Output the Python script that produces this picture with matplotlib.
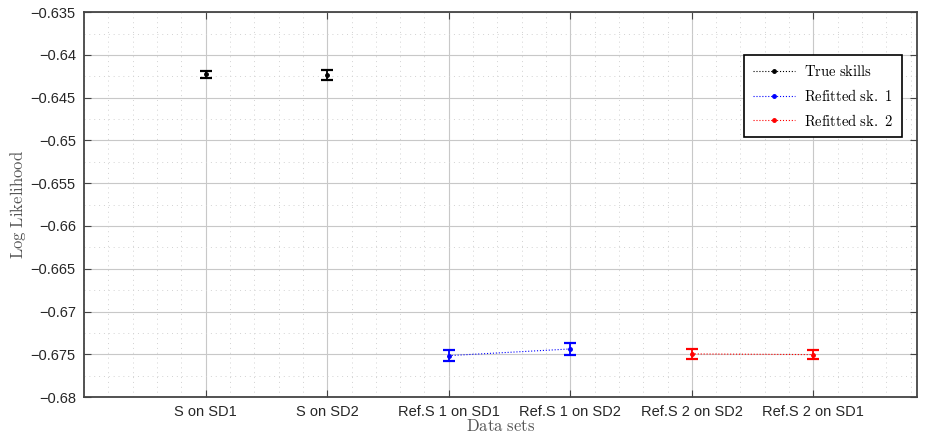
import matplotlib
matplotlib.use("Agg")
import matplotlib.pyplot as plt
from matplotlib.ticker import MultipleLocator
from matplotlib.lines import Line2D

plt.rcParams['mathtext.fontset'] = 'cm'

categories = ["S on SD1", "S on SD2", "Ref.S 1 on SD1", "Ref.S 1 on SD2",
              "Ref.S 2 on SD2", "Ref.S 2 on SD1"]

true_x = [1, 2]
true_mean = [-0.64227, -0.64235]
true_err = [0.00045, 0.00059]

ref1_x = [3, 4]
ref1_mean = [-0.67516, -0.67438]
ref1_err = [0.00062, 0.00069]

ref2_x = [5, 6]
ref2_mean = [-0.67496, -0.67504]
ref2_err = [0.00060, 0.00055]

yticks = [-0.635, -0.64, -0.645, -0.65, -0.655, -0.66, -0.665, -0.67, -0.675, -0.68]
ytick_labels = ["\u22120.635", "\u22120.64", "\u22120.645", "\u22120.65", "\u22120.655",
                "\u22120.66", "\u22120.665", "\u22120.67", "\u22120.675", "\u22120.68"]

fig = plt.figure(figsize=(9.25, 4.36), dpi=100)
ax = fig.add_axes([0.091, 0.0894, 0.9, 0.8826])

series = [
    (true_x, true_mean, true_err, 'black', 'True skills', 'none'),
    (ref1_x, ref1_mean, ref1_err, 'blue', 'Refitted sk. 1', ':'),
    (ref2_x, ref2_mean, ref2_err, 'red', 'Refitted sk. 2', ':'),
]
handles = []
for xs, ms, es, col, lab, ls in series:
    ax.plot(xs, ms, linestyle=ls, color=col, linewidth=0.8, marker='.',
            markersize=5, zorder=3)
    ax.errorbar(xs, ms, yerr=es, fmt='none', ecolor=col, elinewidth=1.3,
                capsize=4.6, capthick=1.6, zorder=3)
    handles.append(Line2D([], [], linestyle=':', color=col, linewidth=0.8,
                          marker='.', markersize=5,
                          label=r'$\mathrm{' + lab.replace(' ', r'\ ') + '}$'))

ax.set_xlim(0, 6.85)
ax.set_ylim(-0.68, -0.635)
ax.set_xticks(range(1, 7))
ax.set_xticklabels(categories)
ax.set_yticks(yticks)
ax.set_yticklabels(ytick_labels)
ax.xaxis.set_minor_locator(MultipleLocator(0.2))
ax.yaxis.set_minor_locator(MultipleLocator(0.0025))

ax.grid(which='major', color='#c8c8c8', linestyle='-', linewidth=0.8, zorder=0)
ax.grid(which='minor', color='#d2d2d2', linestyle=(0, (1, 4)), linewidth=0.7, zorder=0)
ax.set_axisbelow(True)

for tl in ax.get_xticklabels() + ax.get_yticklabels():
    tl.set_fontfamily('Liberation Sans')
    tl.set_fontsize(10.5)
    tl.set_color('#262626')

ax.tick_params(which='major', direction='in', length=5, width=0.8, color='#444444',
               top=True, right=True, pad=6)
ax.tick_params(which='minor', length=0)
for s in ax.spines.values():
    s.set_color('#444444')
    s.set_linewidth(1.3)

ax.set_xlabel(r'$\mathrm{Data\ sets}$', fontsize=12, color='#555555', labelpad=-2)
ax.set_ylabel(r'$\mathrm{Log\ Likelihood}$', fontsize=12, color='#555555', labelpad=2)

leg = ax.legend(handles=handles, loc='upper right', bbox_to_anchor=(0.982, 0.888),
                borderaxespad=0, fancybox=False, edgecolor='black', framealpha=1,
                prop={'size': 10.5}, handlelength=2.9, borderpad=0.6,
                labelspacing=0.6, handletextpad=0.6)
leg.get_frame().set_linewidth(1.2)

fig.savefig('out.png', dpi=100)
